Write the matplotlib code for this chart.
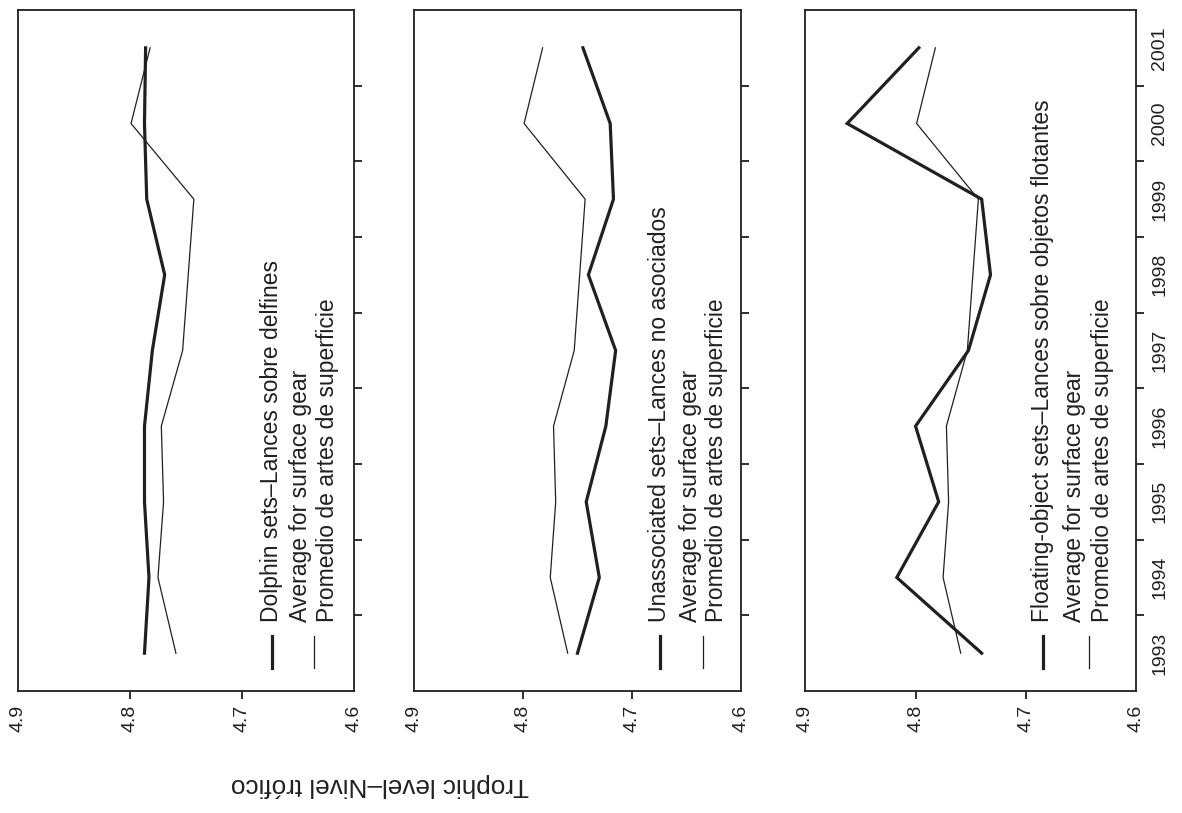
import matplotlib
matplotlib.use("Agg")
import matplotlib.pyplot as plt
from matplotlib.ticker import FixedLocator

plt.rcParams['font.family'] = ['Liberation Sans', 'DejaVu Sans']

# ---- data ----
years = [1993, 1994, 1995, 1996, 1997, 1998, 1999, 2000, 2001]
avg_surface = [4.759, 4.775, 4.770, 4.772, 4.753, 4.748, 4.743, 4.799, 4.782]
dolphin = [4.787, 4.783, 4.787, 4.787, 4.780, 4.769, 4.785, 4.787, 4.786]
unassociated = [4.750, 4.730, 4.742, 4.724, 4.715, 4.740, 4.717, 4.720, 4.745]
floating = [4.740, 4.817, 4.779, 4.800, 4.752, 4.732, 4.740, 4.862, 4.797]

series_labels = ["Dolphin sets\u2013Lances sobre delfines",
                 "Unassociated sets\u2013Lances no asociados",
                 "Floating-object sets\u2013Lances sobre objetos flotantes"]
avg_label_en = "Average for surface gear"
avg_label_es = "Promedio de artes de superficie"
trophic_ticks = [4.9, 4.8, 4.7, 4.6]
trophic_ticklabels = ["4.9", "4.8", "4.7", "4.6"]
axis_label = "Trophic level\u2013Nivel tr\u00f3fico"

INK = "#231f20"
W, H = 1182, 813
fig = plt.figure(figsize=(W / 100, H / 100), dpi=100)

top_px, bot_px = 10, 691
panels_px = [(17.7, 354.3), (414, 741), (805.3, 1136)]
legend_px = [(272, 301, 328, 314), (660, 690, 717, 703), (1043, 1074, 1102, 1089)]
data = [dolphin, unassociated, floating]
LEG_FS = 16.5

for i, ((l, r), (lx_thick, lx_en, lx_es, lx_thin)) in enumerate(zip(panels_px, legend_px)):
    ax = fig.add_axes([l / W, 1 - bot_px / H, (r - l) / W, (bot_px - top_px) / H])
    ax.plot(data[i], years, color=INK, lw=2.3, solid_joinstyle='miter')
    ax.plot(avg_surface, years, color=INK, lw=0.9)
    ax.set_xlim(4.9, 4.6)
    ax.set_ylim(1992.5, 2001.5)
    for s in ax.spines.values():
        s.set_linewidth(1.3)
        s.set_color(INK)
    ax.set_xticks(trophic_ticks)
    ax.set_xticklabels(trophic_ticklabels, rotation=90, fontsize=14, color=INK)
    ax.tick_params(axis='x', direction='out', length=6, width=1.3, pad=4, colors=INK)
    xt = ax.xaxis.get_major_ticks()
    xt[0].tick1line.set_visible(False)
    xt[-1].tick1line.set_visible(False)
    ax.yaxis.set_major_locator(FixedLocator(years))
    ax.yaxis.set_minor_locator(FixedLocator([y + 0.5 for y in years[:-1]]))
    ax.yaxis.tick_right()
    ax.tick_params(axis='y', which='major', length=0, pad=11, labelsize=14, colors=INK)
    ax.tick_params(axis='y', which='minor', direction='out', length=5.5, width=1.3, colors=INK, right=True, left=False)
    if i == 2:
        ax.set_yticklabels([str(y) for y in years], rotation=90, va='center', ha='left')
    else:
        ax.set_yticklabels([])

    # legend (rotated) drawn in axes-fraction coordinates
    def fx(xp):
        return (xp - l) / (r - l)
    def fy(yp):
        return (bot_px - yp) / (bot_px - top_px)
    ax.plot([fx(lx_thick)] * 2, [fy(668), fy(636)], transform=ax.transAxes, color=INK, lw=2.3, clip_on=False)
    ax.plot([fx(lx_thin)] * 2, [fy(668), fy(636)], transform=ax.transAxes, color=INK, lw=0.9, clip_on=False)
    ax.text(fx(lx_thick), fy(622), series_labels[i], rotation=90, ha='center', va='bottom',
            transform=ax.transAxes, fontsize=LEG_FS, color=INK)
    ax.text(fx(lx_en), fy(622), avg_label_en, rotation=90, ha='center', va='bottom',
            transform=ax.transAxes, fontsize=LEG_FS, color=INK)
    ax.text(fx(lx_es), fy(622), avg_label_es, rotation=90, ha='center', va='bottom',
            transform=ax.transAxes, fontsize=LEG_FS, color=INK)

fig.text(380 / W, 1 - 785 / H, axis_label, rotation=180, ha='center', va='center',
         fontsize=18.8, color=INK)

fig.savefig("out.png", dpi=100)
